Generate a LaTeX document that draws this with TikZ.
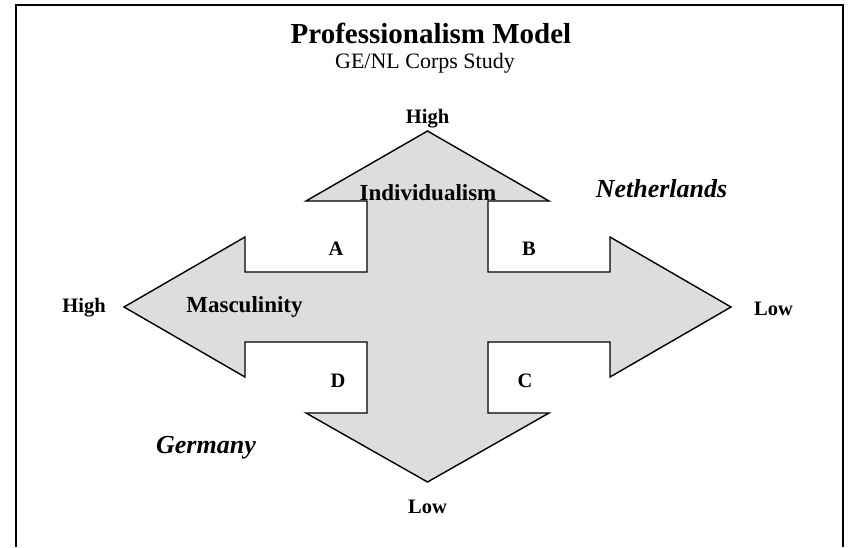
\documentclass[tikz,border=0pt]{standalone}
\usepackage{fontspec}
\setmainfont{Liberation Serif}
\usepackage{tikz}
\usetikzlibrary{positioning}
\definecolor{lightgray}{RGB}{221, 221, 221}
\tikzstyle{cross} = [draw=black, line width=1.4pt, fill=lightgray, line join=miter]
\tikzstyle{frame} = [draw=black, line width=1.6pt]
\tikzstyle{pole} = [inner sep=0pt, anchor=base, font=\bfseries\fontsize{20.5}{24}\selectfont]
\tikzstyle{quadrant} = [inner sep=0pt, anchor=base, font=\bfseries\fontsize{20.5}{24}\selectfont]
\tikzstyle{dimension} = [inner sep=0pt, anchor=base, font=\bfseries\fontsize{23}{27}\selectfont]
\tikzstyle{country} = [inner sep=0pt, anchor=base, font=\bfseries\itshape\fontsize{26}{30}\selectfont]

\begin{document}
\begin{tikzpicture}[x=1pt, y=-1pt]
\useasboundingbox (0,0) rectangle (850,547);

% frame ==================================
\draw[frame] (16,547) -- (16,5) -- (843,5) -- (843,547);

% title
\node[inner sep=0pt, anchor=base, font=\bfseries\fontsize{29}{34}\selectfont] (title) at (431,43) {Professionalism Model};
\node[inner sep=0pt, anchor=base, font=\fontsize{22}{26}\selectfont] (subtitle) at (425,68) {GE/NL Corps Study};

% cross of arrows ========================
\coordinate (ttip) at (427.5,131);
\coordinate (btip) at (427.5,482);
\coordinate (ltip) at (124,307);
\coordinate (rtip) at (731,307);

\draw[cross] (ttip) -- (549,201) -- (488,201) -- (488,272) -- (610,272) -- (610,237)
  -- (rtip) -- (610,377) -- (610,342) -- (488,342) -- (488,413) -- (549,413)
  -- (btip) -- (306,413) -- (367,413) -- (367,342) -- (245,342) -- (245,377)
  -- (ltip) -- (245,237) -- (245,272) -- (367,272) -- (367,201) -- (306,201) -- cycle;

% dimensions
\node[dimension] (indiv) at (428,200) {Individualism};
\node[dimension] (masc) at (244.5,312) {Masculinity};

% poles
\node[pole] (thigh) at (427.5,123) {High};
\node[pole] (blow) at (427.5,513) {Low};
\node[pole] (lhigh) at (84,312) {High};
\node[pole] (rlow) at (773.5,315) {Low};

% quadrants
\node[quadrant] (qa) at (336,255) {A};
\node[quadrant] (qb) at (529,255) {B};
\node[quadrant] (qc) at (525,387) {C};
\node[quadrant] (qd) at (338,387) {D};

% countries
\node[country] (nl) at (661.5,197) {Netherlands};
\node[country] (ge) at (206,453) {Germany};

\end{tikzpicture}
\end{document}
